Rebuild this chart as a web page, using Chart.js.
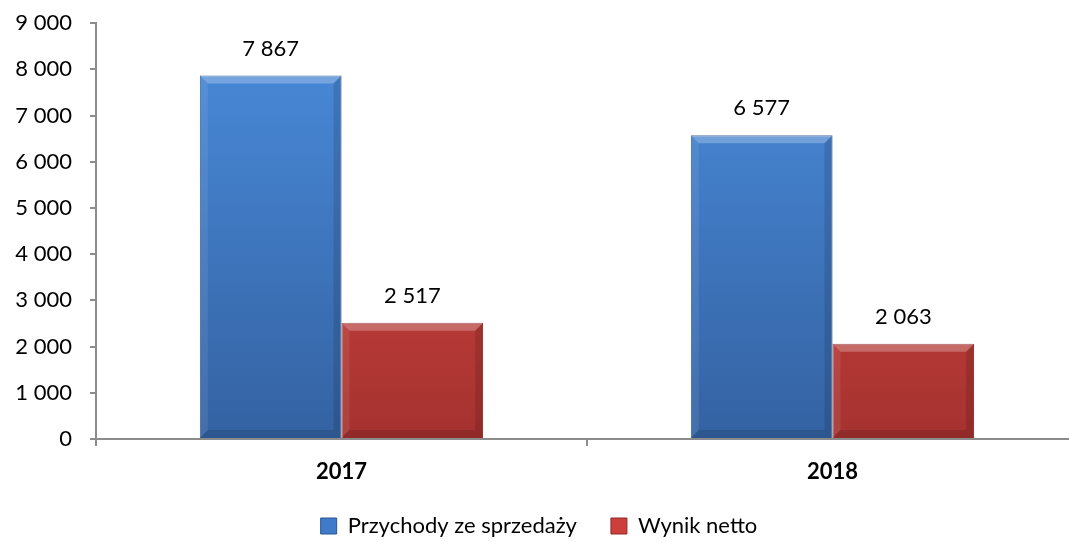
<!DOCTYPE html>
<html>
<head>
<meta charset="utf-8">
<script src="https://cdn.jsdelivr.net/npm/chart.js@4"></script>
<style>
  html, body { margin: 0; padding: 0; background: #fff; overflow: hidden; }
  #wrap { width: 1069px; height: 542px; overflow: hidden; }
</style>
</head>
<body>
<div id="wrap"><canvas id="chart" width="1078" height="542"></canvas></div>
<script>
const years = ['2017', '2018'];
const revenue = [7867, 6577];
const netResult = [2517, 2063];
const seriesNames = ['Przychody ze sprzedaży', 'Wynik netto'];

const FONT = 'Lato, "Open Sans", sans-serif';

// "7867" -> "7 867"
function fmt(v) {
    return String(v).replace(/\B(?=(\d{3})+(?!\d))/g, ' ');
}

function barGradient(ctx, top, bottom) {
    const { chart } = ctx;
    const area = chart.chartArea;
    if (!area) return top;
    const g = chart.ctx.createLinearGradient(0, area.top, 0, area.bottom);
    g.addColorStop(0, top);
    g.addColorStop(1, bottom);
    return g;
}

// bevel edges on the bars + value labels above them
const bevelAndLabels = {
    id: 'bevelAndLabels',
    afterDatasetsDraw(chart) {
        const c = chart.ctx;
        chart.data.datasets.forEach((ds, di) => {
            const meta = chart.getDatasetMeta(di);
            meta.data.forEach((bar, i) => {
                const l = bar.x - bar.width / 2, r = bar.x + bar.width / 2;
                const t = bar.y, b = bar.base, e = 8;
                c.save();
                c.fillStyle = 'rgba(255,255,255,0.25)';
                c.beginPath(); c.moveTo(l, t); c.lineTo(r, t); c.lineTo(r - e, t + e); c.lineTo(l + e, t + e); c.fill();
                c.fillStyle = 'rgba(255,255,255,0.08)';
                c.beginPath(); c.moveTo(l, t); c.lineTo(l + e, t + e); c.lineTo(l + e, b - e); c.lineTo(l, b); c.fill();
                c.fillStyle = 'rgba(0,0,0,0.12)';
                c.beginPath(); c.moveTo(r, t); c.lineTo(r, b); c.lineTo(r - e, b - e); c.lineTo(r - e, t + e); c.fill();
                c.fillStyle = 'rgba(0,0,0,0.12)';
                c.beginPath(); c.moveTo(l, b); c.lineTo(r, b); c.lineTo(r - e, b - e); c.lineTo(l + e, b - e); c.fill();
                c.fillStyle = '#000';
                c.font = '22px ' + FONT;
                c.textAlign = 'center';
                c.textBaseline = 'middle';
                c.fillText(fmt(ds.data[i]), bar.x, t - 27);
                c.restore();
            });
        });
    }
};

new Chart(document.getElementById('chart'), {
    type: 'bar',
    data: {
        labels: years,
        datasets: [
            {
                label: seriesNames[0],
                data: revenue,
                backgroundColor: (ctx) => barGradient(ctx, '#4a8cdc', '#3462a2'),
                borderColor: '#2d5690',
                borderWidth: 1,
                categoryPercentage: 0.577,
                barPercentage: 1
            },
            {
                label: seriesNames[1],
                data: netResult,
                backgroundColor: (ctx) => barGradient(ctx, '#e24c48', '#a5322f'),
                borderColor: '#8e2a28',
                borderWidth: 1,
                categoryPercentage: 0.577,
                barPercentage: 1
            }
        ]
    },
    options: {
        responsive: false,
        animation: false,
        layout: { autoPadding: false, padding: { top: 15, right: 0, bottom: -5, left: 0 } },
        scales: {
            y: {
                min: 0, max: 9000,
                ticks: {
                    stepSize: 1000, color: '#000', padding: 10,
                    font: { family: FONT, size: 22 },
                    callback: (v) => fmt(v)
                },
                // long tick, only the 6px next to the axis is visible
                grid: { drawOnChartArea: false, tickLength: 14, tickBorderDash: [0, 8, 6, 100], color: '#8c8c8c', lineWidth: 2 },
                border: { color: '#8c8c8c', width: 2 },
                afterFit: (s) => { s.width = 96; }
            },
            x: {
                ticks: { color: '#000', padding: 13, font: { family: FONT, size: 22, weight: 'bold' } },
                grid: { drawOnChartArea: false, offset: true, tickLength: 7, color: '#8c8c8c', lineWidth: 2 },
                border: { color: '#8c8c8c', width: 2 },
                afterFit: (s) => { s.height = 42; }
            }
        },
        plugins: {
            legend: {
                position: 'bottom',
                labels: {
                    color: '#000', boxWidth: 16, boxHeight: 16, padding: 34,
                    font: { family: FONT, size: 22 },
                    generateLabels: (chart) => chart.data.datasets.map((ds, i) => ({
                        text: ds.label,
                        fillStyle: i === 0 ? '#3f7bc8' : '#cc3f3b',
                        strokeStyle: i === 0 ? '#2d5690' : '#8e2a28',
                        lineWidth: 1,
                        datasetIndex: i
                    }))
                }
            },
            tooltip: { enabled: false }
        }
    },
    plugins: [bevelAndLabels]
});
</script>
</body>
</html>
